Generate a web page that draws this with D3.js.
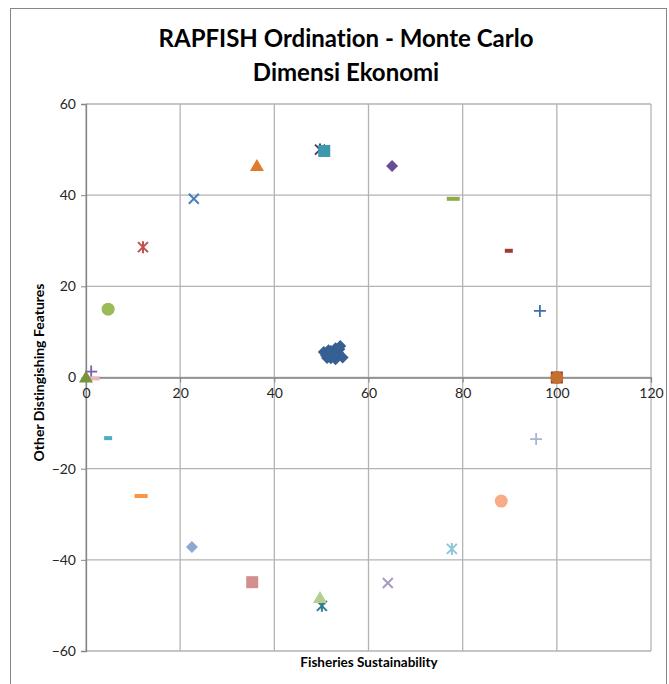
<!DOCTYPE html>
<html lang="en">
<head>
    <meta charset="UTF-8">
    <title>RAPFISH Ordination - Monte Carlo</title>
    <script src="https://d3js.org/d3.v7.min.js"></script>
    <style>
        body { margin: 0; background: #fff; }
        text { font-family: Lato, "Open Sans", sans-serif; font-variant-ligatures: none; }
    </style>
</head>
<body>
    <script>
        // DATA
        var titleLines = ["RAPFISH Ordination - Monte Carlo", "Dimensi Ekonomi"];
        var xTicks = [0, 20, 40, 60, 80, 100, 120];
        var yTicks = [-60, -40, -20, 0, 20, 40, 60];

        // Monte Carlo cluster
        var clusterX = [50.5, 51.0, 51.5, 52.0, 52.5, 53.0, 53.5, 54.0, 54.5, 53.0, 52.0, 51.2, 53.8, 52.8];
        var clusterY = [5.6, 4.8, 6.0, 4.2, 5.2, 6.4, 5.5, 6.9, 4.4, 4.0, 5.8, 4.3, 6.2, 5.0];

        // reference points (anchors etc.)
        var pointX = [49.7, 50.6, 36.3, 65.0, 22.9, 78.0, 12.1, 89.8, 4.7, 96.4, 1.1, 1.5, 0, 100, 100, 4.7, 95.6, 11.7, 88.2, 22.5, 77.7, 35.3, 64.1, 50.1, 49.7];
        var pointY = [50.0, 49.7, 46.4, 46.4, 39.2, 39.2, 28.6, 27.8, 15.0, 14.6, 1.3, -0.2, 0, 0, 0, -13.3, -13.5, -26.0, -27.1, -37.2, -37.6, -44.9, -45.1, -50.1, -48.4];

        // marker styles for the points above
        var pointShape = ["star", "square", "triangle", "diamond", "x", "dash", "star", "smalldash", "circle", "plus", "plus", "dash", "triangle", "square", "circle", "smalldash", "plus", "dash", "circle", "diamond", "star", "square", "x", "star", "triangle"];
        var pointColor = ["#4b3b6c", "#3d97ad", "#e07b2c", "#674d94", "#4a7ebb", "#8cae48", "#c0504d", "#a03a37", "#9bbb59", "#3f6ea8", "#7f5fa3", "#e6b9b8", "#77933c", "#953735", "#c4702c", "#4bacc6", "#aab5d6", "#f79646", "#f7ab86", "#8ea9d0", "#8cc6d8", "#d38f8d", "#a99bc6", "#2f7d93", "#b4ce8e"];

        var width = 669, height = 684;
        var mLeft = 86, mRight = 651, mTop = 104, mBottom = 651;

        var svg = d3.select("body").append("svg")
            .attr("width", width)
            .attr("height", height);

        // chart border
        svg.append("rect")
            .attr("x", 10.5).attr("y", 8.5)
            .attr("width", 656).attr("height", 690)
            .attr("fill", "#fff").attr("stroke", "#868686").attr("stroke-width", 1);

        var x = d3.scaleLinear().domain([0, 120]).range([mLeft, mRight]);
        var y = d3.scaleLinear().domain([-60, 60]).range([mBottom, mTop]);

        // gridlines
        var grid = svg.append("g").attr("stroke", "#b3b3b3").attr("stroke-width", 1.3);
        grid.selectAll(".gx").data(xTicks).enter().append("line")
            .attr("x1", d => x(d)).attr("x2", d => x(d))
            .attr("y1", mTop).attr("y2", mBottom);
        grid.selectAll(".gy").data(yTicks).enter().append("line")
            .attr("x1", mLeft).attr("x2", mRight)
            .attr("y1", d => y(d)).attr("y2", d => y(d));

        // y axis on the left
        var yAxis = svg.append("g")
            .attr("transform", "translate(" + mLeft + ",0)")
            .call(d3.axisLeft(y).tickValues(yTicks).tickSize(5).tickPadding(5).tickFormat(d3.format("d")));
        // x axis crossing at y = 0
        var xAxis = svg.append("g")
            .attr("transform", "translate(0," + y(0) + ")")
            .call(d3.axisBottom(x).tickValues(xTicks).tickSize(5).tickPadding(6));

        [yAxis, xAxis].forEach(function(a) {
            a.select(".domain").attr("stroke", "#868686").attr("stroke-width", 1.3);
            a.selectAll(".tick line").attr("stroke", "#868686");
            a.selectAll(".tick text").attr("fill", "#262626").attr("font-size", "14px")
                .attr("font-family", "Lato, 'Open Sans', sans-serif");
        });

        // titles
        svg.selectAll(".title").data(titleLines).enter().append("text")
            .attr("x", 346).attr("y", (d, i) => 47 + i * 34)
            .attr("text-anchor", "middle")
            .attr("font-size", "24px").attr("font-weight", "bold")
            .attr("fill", "#000")
            .text(d => d);

        svg.append("text")
            .attr("x", 369).attr("y", 667)
            .attr("text-anchor", "middle")
            .attr("font-size", "13.5px").attr("font-weight", "bold")
            .text("Fisheries Sustainability");

        svg.append("text")
            .attr("transform", "translate(44," + (y(0) - 5) + ") rotate(-90)")
            .attr("text-anchor", "middle")
            .attr("font-size", "14px").attr("font-weight", "bold")
            .text("Other Distingishing Features");

        // markers
        function marker(g, shape, color) {
            if (shape === "square") {
                g.append("rect").attr("x", -6).attr("y", -6).attr("width", 12).attr("height", 12).attr("fill", color);
            } else if (shape === "circle") {
                g.append("circle").attr("r", 6.5).attr("fill", color);
            } else if (shape === "triangle") {
                g.append("path").attr("d", "M0,-7L7,5L-7,5Z").attr("fill", color);
            } else if (shape === "diamond") {
                g.append("path").attr("d", "M0,-6L6,0L0,6L-6,0Z").attr("fill", color);
            } else if (shape === "dash") {
                g.append("rect").attr("x", -6.5).attr("y", -2).attr("width", 13).attr("height", 4).attr("fill", color);
            } else if (shape === "smalldash") {
                g.append("rect").attr("x", -4).attr("y", -2).attr("width", 8).attr("height", 4).attr("fill", color);
            } else if (shape === "plus") {
                g.append("path").attr("d", "M-6,0H6M0,-6V6").attr("stroke", color).attr("stroke-width", 1.8).attr("fill", "none");
            } else if (shape === "x") {
                g.append("path").attr("d", "M-5,-5L5,5M5,-5L-5,5").attr("stroke", color).attr("stroke-width", 2).attr("fill", "none");
            } else if (shape === "star") {
                g.append("path").attr("d", "M-5,-5L5,5M5,-5L-5,5M0,-6V6").attr("stroke", color).attr("stroke-width", 2).attr("fill", "none");
            }
        }

        var pts = svg.append("g");
        pointX.forEach(function(v, i) {
            var g = pts.append("g").attr("transform", "translate(" + x(v) + "," + y(pointY[i]) + ")");
            marker(g, pointShape[i], pointColor[i]);
        });

        clusterX.forEach(function(v, i) {
            var g = pts.append("g").attr("transform", "translate(" + x(v) + "," + y(clusterY[i]) + ")");
            marker(g, "diamond", "#365f93");
        });
    </script>
</body>
</html>
